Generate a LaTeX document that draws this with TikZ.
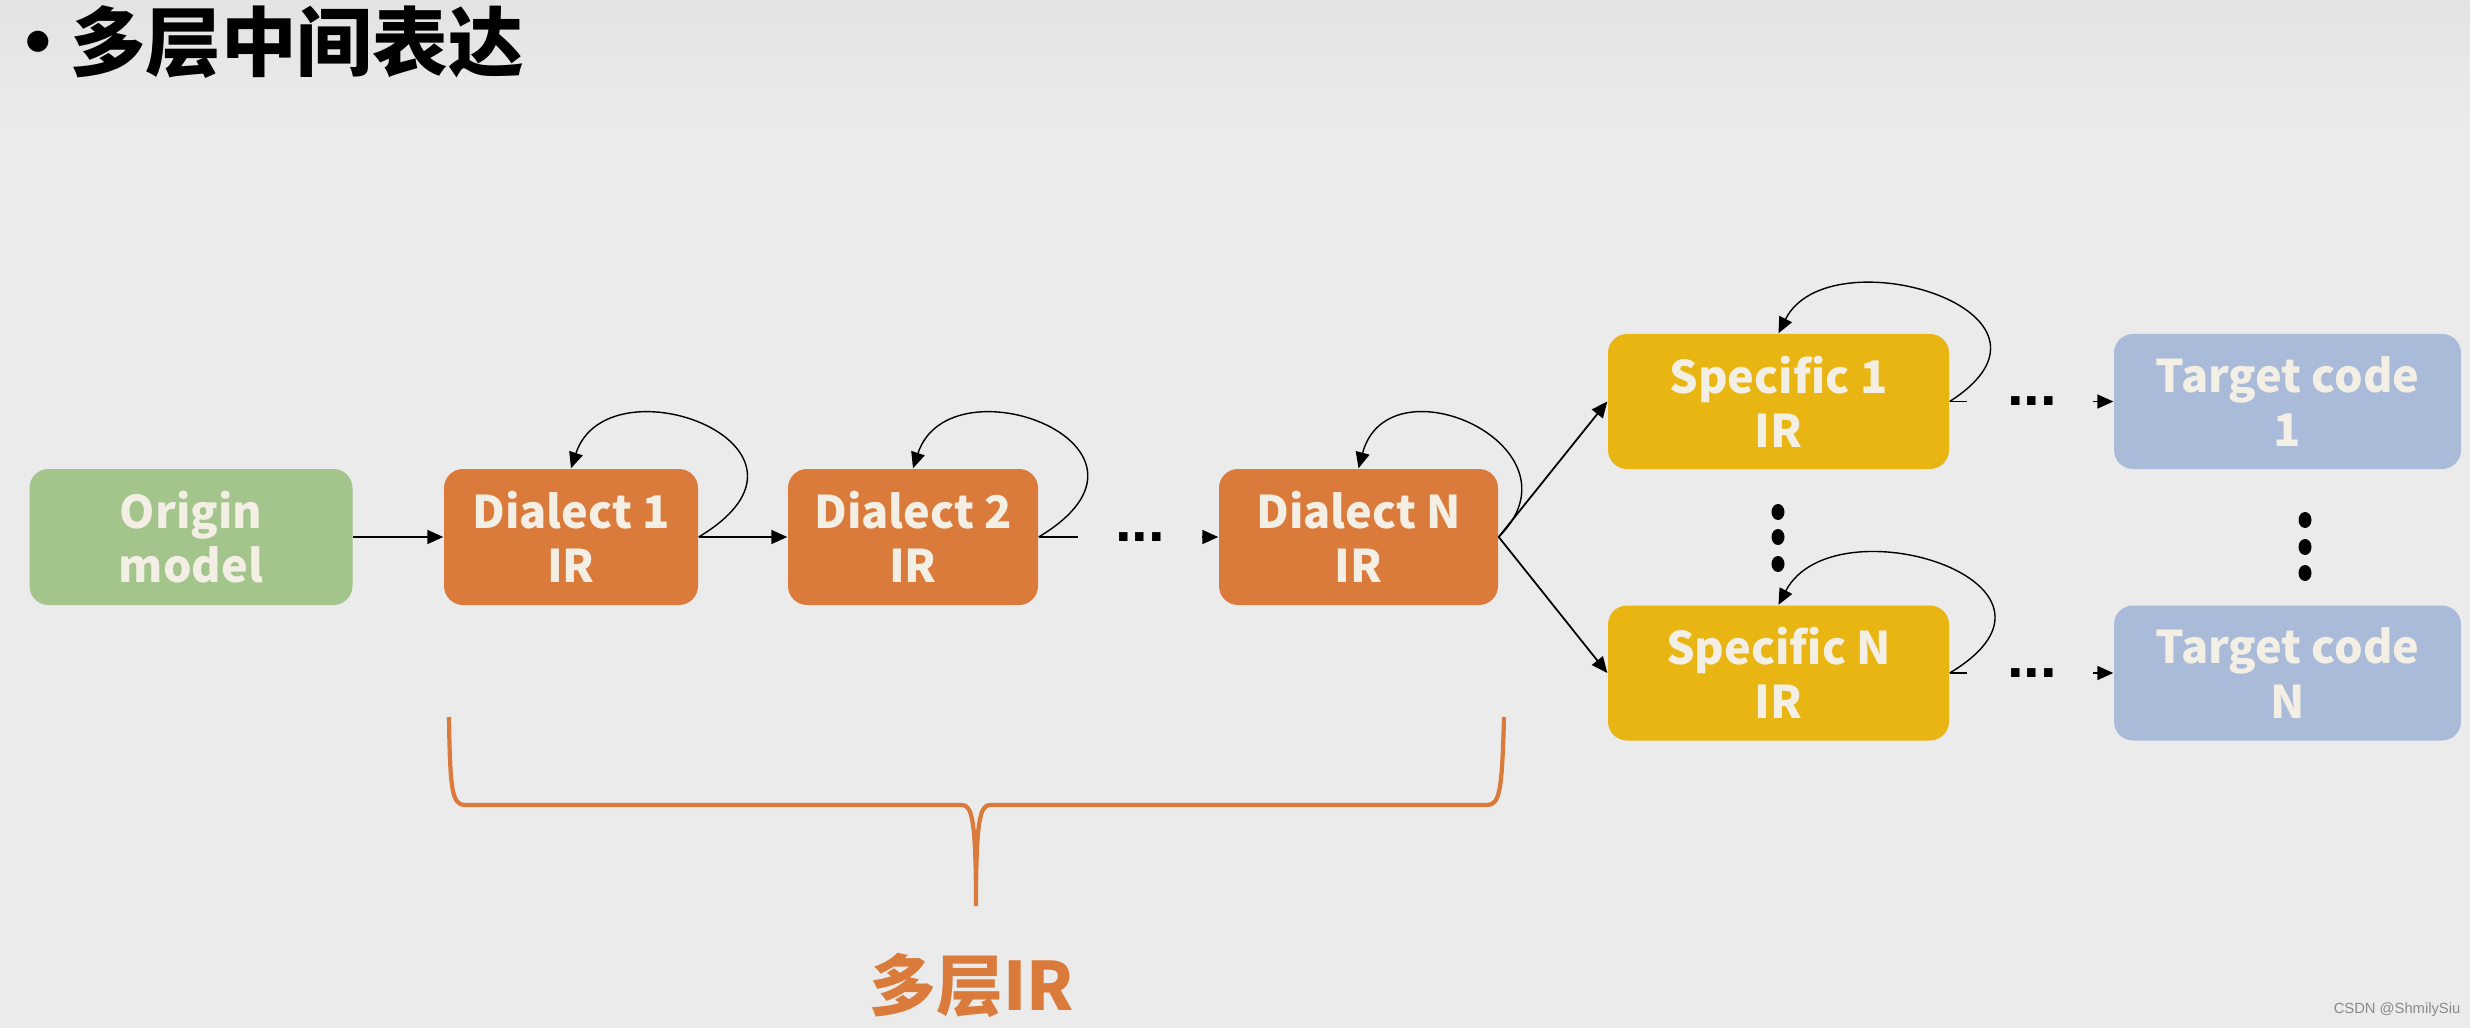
\documentclass[tikz,border=0pt]{standalone}
\usepackage{fontspec}
\newfontfamily\cjk{Noto Sans CJK SC}
\newfontfamily\wmfont{Liberation Sans}
\usepackage{xcolor}
\usepackage{tikz}
\usetikzlibrary{arrows.meta,calc,positioning}
\definecolor{bgGray}{HTML}{EBEBEB}
\definecolor{topGray}{HTML}{E3E3E3}
\definecolor{originGreen}{HTML}{A3C48B}
\definecolor{dialectOrange}{HTML}{DA7B3B}
\definecolor{specificYellow}{HTML}{E9B513}
\definecolor{targetBlue}{HTML}{A9BBD8}
\definecolor{boxText}{HTML}{F3EFE5}
\definecolor{markGray}{HTML}{8A8A8A}
\tikzset{
  irbox/.style={rounded corners=0.19cm, minimum height=1.36cm, inner sep=0pt,
    align=center, text=boxText, font=\cjk\bfseries\fontsize{12.8}{15.4}\selectfont},
  flow/.style={-{Triangle[length=1.6mm,width=1.4mm]}, line width=0.5pt, black},
  selfloop/.style={flow, line width=0.4pt},
  hdots/.style={font=\wmfont\bfseries\fontsize{17}{17}\selectfont, inner sep=0pt},
  vdot/.style={fill=black},
  brace/.style={draw=dialectOrange, line width=1.2pt}
}

\begin{document}
\begin{tikzpicture}
            \def\rowy{-5.37}
            \def\upy{-4.015}
            \def\lowy{-6.73}
            \fill[bgGray] (0,0) rectangle (24.7,-10.28);
            \shade[top color=topGray, bottom color=bgGray] (0,0) rectangle (24.7,-1.3);
            \useasboundingbox (0,0) rectangle (24.7,-10.28);
            \node[anchor=west, inner sep=0pt, font=\cjk\bfseries\fontsize{21.5}{21.5}\selectfont] (title) at (0,-0.42) {•\hspace{-0.08em}多层中间表达};
            \node[irbox, fill=originGreen, minimum width=3.23cm] (orig) at (1.91,\rowy) {Origin\\model};
            \node[irbox, fill=dialectOrange, minimum width=2.54cm] (d1) at (5.71,\rowy) {Dialect 1\\IR};
            \node[irbox, fill=dialectOrange, minimum width=2.50cm] (d2) at (9.13,\rowy) {Dialect 2\\IR};
            \node[irbox, fill=dialectOrange, minimum width=2.79cm] (dn) at (13.585,\rowy) {Dialect N\\IR};
            \node[irbox, fill=specificYellow, minimum width=3.41cm, minimum height=1.35cm] (s1) at (17.785,\upy) {Specific 1\\IR};
            \node[irbox, fill=specificYellow, minimum width=3.41cm, minimum height=1.35cm] (sn) at (17.785,\lowy) {Specific N\\IR};
            \node[irbox, fill=targetBlue, minimum width=3.47cm, minimum height=1.35cm] (t1) at (22.875,\upy) {Target code\\1};
            \node[irbox, fill=targetBlue, minimum width=3.47cm, minimum height=1.35cm] (tn) at (22.875,\lowy) {Target code\\N};
            \coordinate (d2out) at (10.78,\rowy);
            \coordinate (dnin) at (12.02,\rowy);
            \coordinate (s1out) at (19.67,\upy);
            \coordinate (t1in) at (20.93,\upy);
            \coordinate (snout) at (19.67,\lowy);
            \coordinate (tnin) at (20.93,\lowy);
            \node[hdots] (gapd) at (11.40,\rowy) {...};
            \node[hdots] (gaps1) at (20.32,\upy) {...};
            \node[hdots] (gapsn) at (20.32,\lowy) {...};
            \draw[flow] (orig) -- (d1);
            \draw[flow] (d1) -- (d2);
            \draw[flow, -] (d2.east) -- (d2out);
            \draw[flow] (dnin) -- (dn.west);
            \draw[flow] (dn.east) -- (s1.west);
            \draw[flow] (dn.east) -- (sn.west);
            \draw[flow, -] (s1.east) -- (s1out);
            \draw[flow] (t1in) -- (t1.west);
            \draw[flow, -] (sn.east) -- (snout);
            \draw[flow] (tnin) -- (tn.west);
            \foreach \n/\a/\b/\c in {d1/1.5/0.37/1.12, d2/1.5/0.37/1.12, dn/0.9/0.3/1.12, s1/1.4/0.5/1.0, sn/1.5/0.55/1.05}
              \draw[selfloop] (\n.east) .. controls +(\a,0.9) and +(\b,\c) .. (\n.north);
            \foreach \y in {-5.12,-5.37,-5.64}
              \fill[vdot] (17.78,\y) ellipse (0.065 and 0.08);
            \foreach \y in {-5.20,-5.47,-5.73}
              \fill[vdot] (23.05,\y) ellipse (0.065 and 0.08);
            \draw[brace] (4.49,-7.17) .. controls (4.50,-7.9) and (4.52,-8.05) .. (4.65,-8.05)
              -- (9.62,-8.05) .. controls (9.72,-8.05) and (9.76,-8.2) .. (9.76,-9.06)
              .. controls (9.76,-8.2) and (9.80,-8.05) .. (9.90,-8.05)
              -- (14.87,-8.05) .. controls (15.0,-8.05) and (15.02,-7.9) .. (15.04,-7.17);
            \node[text=dialectOrange, font=\cjk\bfseries\fontsize{19}{19}\selectfont] (multi) at (9.72,-9.85) {多层IR};
            \node[anchor=east, inner sep=0pt, text=markGray, font=\wmfont\fontsize{4.2}{4.2}\selectfont] (mark) at (24.61,-10.10) {CSDN @ShmilySiu};
          \end{tikzpicture}
\end{document}
